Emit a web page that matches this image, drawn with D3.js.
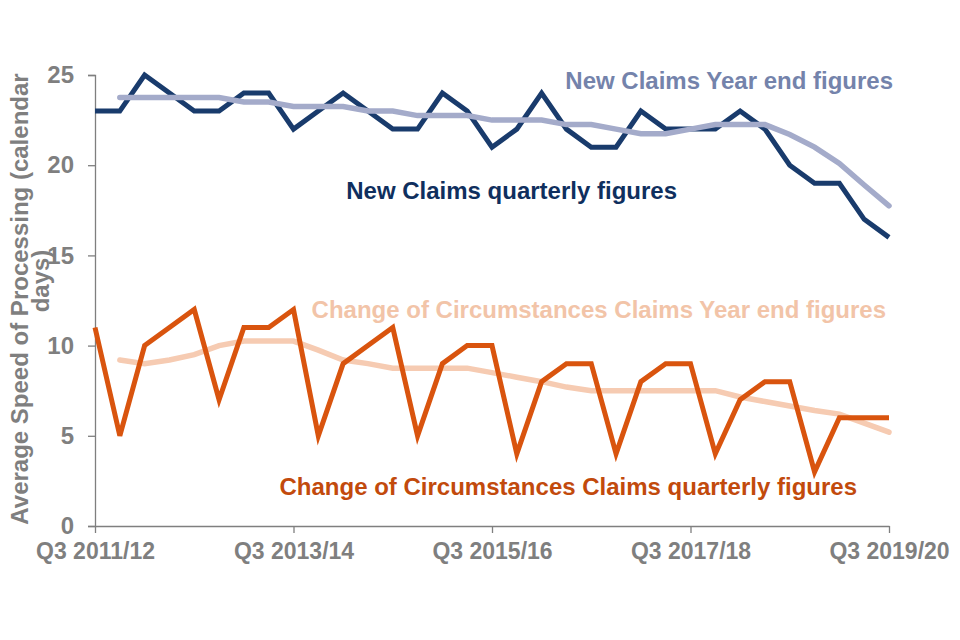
<!DOCTYPE html>
<html>
<head>
<meta charset="utf-8">
<script src="https://cdn.jsdelivr.net/npm/d3@7"></script>
<style>
  body { margin: 0; background: #fff; }
  svg text { font-family: "Liberation Sans", Arial, sans-serif; }
</style>
</head>
<body>
<div id="chart"></div>
<script>
const quarters = [
  "Q3 2011/12","Q4 2011/12","Q1 2012/13","Q2 2012/13","Q3 2012/13","Q4 2012/13","Q1 2013/14","Q2 2013/14",
  "Q3 2013/14","Q4 2013/14","Q1 2014/15","Q2 2014/15","Q3 2014/15","Q4 2014/15","Q1 2015/16","Q2 2015/16",
  "Q3 2015/16","Q4 2015/16","Q1 2016/17","Q2 2016/17","Q3 2016/17","Q4 2016/17","Q1 2017/18","Q2 2017/18",
  "Q3 2017/18","Q4 2017/18","Q1 2018/19","Q2 2018/19","Q3 2018/19","Q4 2018/19","Q1 2019/20","Q2 2019/20",
  "Q3 2019/20"
];
const tickLabels = ["Q3 2011/12", "Q3 2013/14", "Q3 2015/16", "Q3 2017/18", "Q3 2019/20"];
const yTicks = [0, 5, 10, 15, 20, 25];

const newQuarterly = [23, 23, 25, 24, 23, 23, 24, 24, 22, 23, 24, 23, 22, 22, 24, 23,
  21, 22, 24, 22, 21, 21, 23, 22, 22, 22, 23, 22, 20, 19, 19, 17, 16];
const newYearEnd = [null, 23.75, 23.75, 23.75, 23.75, 23.75, 23.5, 23.5, 23.25, 23.25, 23.25, 23, 23, 22.75, 22.75, 22.75,
  22.5, 22.5, 22.5, 22.25, 22.25, 22, 21.75, 21.75, 22, 22.25, 22.25, 22.25, 21.7, 21, 20.1, 18.9, 17.75];
const cocQuarterly = [11, 5, 10, 11, 12, 7, 11, 11, 12, 5, 9, 10, 11, 5, 9, 10,
  10, 4, 8, 9, 9, 4, 8, 9, 9, 4, 7, 8, 8, 3, 6, 6, 6];
const cocYearEnd = [null, 9.2, 9, 9.2, 9.5, 10, 10.25, 10.25, 10.25, 9.75, 9.2, 9, 8.75, 8.75, 8.75, 8.75,
  8.5, 8.25, 8, 7.7, 7.5, 7.5, 7.5, 7.5, 7.5, 7.5, 7.15, 6.9, 6.65, 6.4, 6.2, 5.7, 5.2];

const width = 960, height = 640;
const margin = { top: 75, right: 71, bottom: 114, left: 95 };

const svg = d3.select("#chart").append("svg")
  .attr("width", width)
  .attr("height", height);

const g = svg.append("g")
  .attr("transform", "translate(" + margin.left + "," + margin.top + ")");

const innerW = width - margin.left - margin.right;
const innerH = height - margin.top - margin.bottom;

const x = d3.scalePoint().domain(quarters).range([0, innerW]);
const y = d3.scaleLinear().domain([0, 25]).range([innerH, 0]);

const axisGrey = "#7f7f7f";

// y axis
const yAxis = g.append("g")
  .call(d3.axisLeft(y).tickValues(yTicks).tickSize(7).tickPadding(14));
yAxis.select(".domain").attr("stroke", axisGrey).attr("stroke-width", 1.3);
yAxis.selectAll(".tick line").attr("stroke", axisGrey).attr("stroke-width", 1.3);
yAxis.selectAll(".tick text")
  .attr("fill", axisGrey)
  .attr("font-size", "24px")
  .attr("font-weight", "bold");

// x axis
const xAxis = g.append("g")
  .attr("transform", "translate(0," + innerH + ")")
  .call(d3.axisBottom(x).tickValues(tickLabels).tickSize(7).tickPadding(10).tickSizeOuter(0));
xAxis.select(".domain").attr("stroke", axisGrey).attr("stroke-width", 1.3);
xAxis.selectAll(".tick line").attr("stroke", axisGrey).attr("stroke-width", 1.3);
xAxis.selectAll(".tick text")
  .attr("fill", axisGrey)
  .attr("font-size", "23px")
  .attr("font-weight", "bold");

// y axis title, two lines
const yTitle = svg.append("text")
  .attr("transform", "translate(28,299) rotate(-90)")
  .attr("text-anchor", "middle")
  .attr("fill", axisGrey)
  .attr("font-size", "24px")
  .attr("font-weight", "bold");
yTitle.append("tspan").attr("x", 0).attr("dy", 0).text("Average Speed of Processing (calendar");
yTitle.append("tspan").attr("x", 18).attr("dy", 21).text("days)");

const line = d3.line()
  .defined(d => d != null)
  .x((d, i) => x(quarters[i]))
  .y(d => y(d));

const series = [
  { data: newYearEnd, color: "#a4abca", w: 5.5, cap: "round" },
  { data: newQuarterly, color: "#193b6c", w: 5, cap: "butt" },
  { data: cocYearEnd, color: "#f6cbb2", w: 5.5, cap: "round" },
  { data: cocQuarterly, color: "#d9540e", w: 5, cap: "butt" }
];

// quarterly under year end for new claims, year end under quarterly for coc
const order = [series[1], series[0], series[2], series[3]];
order.forEach(function(s) {
  g.append("path")
    .datum(s.data)
    .attr("fill", "none")
    .attr("stroke", s.color)
    .attr("stroke-width", s.w)
    .attr("stroke-linejoin", "miter")
    .attr("stroke-linecap", s.cap)
    .attr("d", line);
});

// series labels
const labels = [
  { text: "New Claims Year end figures", x: 893, y: 89, color: "#7483ab" },
  { text: "New Claims quarterly figures", x: 677, y: 199, color: "#0f2f5e" },
  { text: "Change of Circumstances Claims Year end figures", x: 886, y: 318, color: "#f2c4a8" },
  { text: "Change of Circumstances Claims quarterly figures", x: 857, y: 495, color: "#c24a0c" }
];
svg.selectAll(".series-label")
  .data(labels)
  .enter()
  .append("text")
  .attr("class", "series-label")
  .attr("x", d => d.x)
  .attr("y", d => d.y)
  .attr("text-anchor", "end")
  .attr("fill", d => d.color)
  .attr("font-size", "24px")
  .attr("font-weight", "bold")
  .text(d => d.text);
</script>
</body>
</html>
